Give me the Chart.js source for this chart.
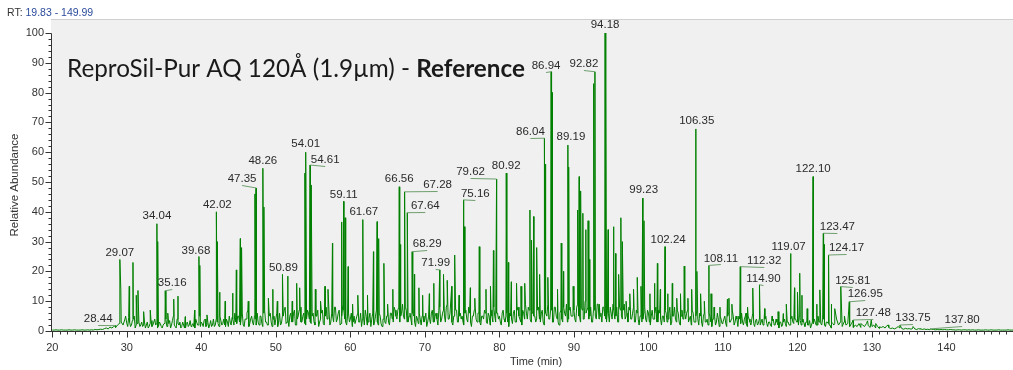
<!DOCTYPE html>
<html><head><meta charset="utf-8">
<script src="https://cdn.jsdelivr.net/npm/chart.js@4.4.1/dist/chart.umd.min.js"></script>
<style>html,body{margin:0;padding:0;background:#fff;overflow:hidden}#wrap{width:1013px;height:370px;position:relative}</style>
</head><body><div id="wrap"><canvas id="c" width="1013" height="370"></canvas></div>
<script>
// ---- data ----
const rtRange = [19.83, 149.99];
const visibleMax = 148.92;
const xTickLabels = [20, 30, 40, 50, 60, 70, 80, 90, 100, 110, 120, 130, 140];
const yTickLabels = [0, 10, 20, 30, 40, 50, 60, 70, 80, 90, 100];
const yMax = 104.7;

// baseline / noise trace sampled every 0.25 min from 20.00
const baseStart = 20, baseStep = 0.25;
const baseline = [
0.3,0.3,0.4,0.3,0.3,0.4,0.3,0.3,0.3,0.4,0.3,0.3,0.4,0.3,0.3,0.3,0.4,0.3,0.3,0.4,
0.3,0.4,0.3,0.5,0.4,0.5,0.6,0.5,0.8,1.0,0.7,1.3,1.0,1.5,1.2,2.0,2.5,3.0,2.0,4.0,
2.5,4.5,1.5,3.5,5,2,4,1.5,3,2,1,3,1.5,3.5,2,4,2.5,1.5,2.5,1,
2.5,4,1.5,3.5,2,5,1.5,4,2,1,3,1,2.5,1.5,3.5,2,1.5,4,2,5,
3,1.5,4,2,1,3.5,2,1.5,4,2.5,5,2,4,1.5,3,5,2,4,6,2.5,
5,2,6,1.5,4,7,2.5,5,2,4,6,2,5,1.5,7,3,2,6,1.5,5,
4,1.5,6,2.5,5,8,3,1.5,6,3,7,2,5,8,3,6,2,7,4,2.5,
6,2,5,1.5,4,7,2,8,4,2,6,3,8,4,7,2.5,9,4,2,6,
4,1.5,5,2.5,6,3,1.5,5,7,2,4,1.5,6,3,7,2,5,1.5,4,2.5,
5,2,6,3,7,4,8,5,9,4,7,3,6,2,5,1.5,4,6,2,5,
4,1.5,5,2.5,7,3,6,2,8,4,7,3,9,4,6,2,5,7,3,6,
5,2,7,3,6,1.5,5,8,3,6,2,5,7,3,6,2,5,8,3,6,
5,2,7,3,6,1.5,5,2.5,7,3,8,4,2,6,9,4,7,3,8,5,
4,8,3,7,2,6,9,4,7,3,8,4,2,7,3,6,9,4,8,5,
7,3,9,5,8,4,10,6,4,8,3,7,4,9,5,3,8,4,7,3,
6,9,4,8,3,7,4,9,5,3,7,4,8,3,6,2,7,4,8,3,
6,2,7,4,8,3,6,2,5,7,3,6,2,5,8,3,6,2,7,4,
4,7,4,2,6,3,7,2,5,1.5,6,3,2,5,1.5,4,2,6,1.5,4,
3,5,1.5,6,3,7,2,5,1.5,4,6,2,5,1.5,4,2,6,1.5,4,2.5,
2,4,2.5,5,1.5,3,1.5,4,2,3,1,3,2,4,1.5,3,2,5,2.5,4,
3,5,2,4,1.5,3,2,1,3,4,2,5,3,2,4,1.5,3,2,1,2.5,
2.5,4,2,3,1.5,3,2,2.5,1.5,2.5,1.2,2,1.5,2.5,1.2,2,1.5,2.5,1.8,1.2,
1.5,2,1,1.5,0.8,1.2,1.5,1,1.8,1.2,0.8,1,0.7,1,1.5,1,0.8,0.6,0.9,0.7,
0.8,0.6,1,0.7,0.5,0.8,0.6,0.5,0.7,0.5,0.6,0.4,0.6,0.5,0.4,0.5,0.4,0.5,0.4,0.5,
0.4,0.4,0.5,0.4,0.4,0.3,0.4,0.4,0.3,0.4,0.4,0.3,0.4,0.3,0.4,0.3,0.3,0.4,0.3,0.3,
0.3,0.4,0.3,0.3,0.4,0.3,0.3,0.3,0.4,0.3,0.3,0.3,0.3,0.4,0.3,0.3,0.3,0.3,0.3,0.3
];
// in-between noise samples (every 0.25 min from 30.125) for the busy part of the run
const midStart = 30.125, midStep = 0.25;
const baselineMid = [
1.5,3,2,4,1,2.5,3,2,1.5,3,2,1,2.5,1.5,3,2,1,3,1.5,2,
3,1.5,2.5,1,3.5,2,1,2.5,3,1.5,2,1,3,2,1.5,2.5,1,3,2,1.5,
2.5,3.5,1.5,3,2,1.5,4,2,3,1.5,3.5,2.5,2,4,1.5,3,4.5,2,3,5,
3,5,2,4,6,1.5,4,3,5,2,3,5,2.5,6,3,2,5,3,4,2,
6,3,2,5,7,2.5,4,5,3,6,2,4,7,3,5,2.5,4,6,3,5,
3,5,7,3,6,2.5,5,4,7,3,5,8,3,6,2,5,7,3,5,3,
6,3,2.5,5,3,6,4,2,5,3,6,4,2,5,3,6,2.5,4,3,5,
3,6,4,8,5,7,3,6,5,8,3,5,4,6,3,5,2.5,4,5,3,
6,3,4,6,3,5,4,7,3,6,5,8,4,6,3,5,7,3,5,4,
3,6,4,8,3,5,7,4,6,3,5,4,6,2.5,5,7,3,5,6,4,
3,6,4,5,3,6,4,6,3,7,5,3,7,4,6,8,4,6,5,3,
7,4,6,3,8,5,4,7,3,8,5,3,6,4,8,5,3,7,5,8,
4,8,5,3,7,4,6,8,5,3,7,5,9,4,6,8,5,3,6,8,
4,7,5,3,8,5,7,4,6,8,4,6,3,7,4,5,3,6,4,7,
3,5,4,6,3,7,4,5,3,6,4,8,3,5,4,7,3,5,4,6,
6,3,5,7,3,5,4,6,3,5,3,4,6,3,4,5,3,4,5,2.5,
4,2.5,5,3,4,5,3,4,5,2.5,3,4,2.5,5,3,4,2.5,3.5,2,4,
3,2,4,2.5,3,2,3.5,2,4,2,3,1.5,3,2.5,3,2,4,3,4,3,
2,3.5,3,2.5,3,2,3.5,2,2.5,3,2,3,2.5,4,2,3,2.5,2,3,2
];

// peak apexes (retention time, relative abundance)
const peakTimes = [
28.44,29.07,29.2,29.84,30.33,30.83,31.27,31.5,32.26,33.15,34.04,34.15,35.16,35.5,36.3,36.87,37.85,39.1,39.68,39.8,
40.76,42.02,42.15,42.46,43.2,44.2,44.7,45.24,45.4,46.3,47.2,47.35,48.26,48.4,49.0,49.6,50.2,50.89,51.6,52.2,
52.8,53.2,53.9,54.01,54.61,54.75,55.3,56.0,56.6,57.0,57.6,58.8,59.11,59.3,59.7,60.3,61.0,61.67,62.3,63.1,
63.6,63.8,64.5,65.0,65.7,66.56,66.7,67.28,67.64,68.29,68.6,69.2,69.7,70.6,71.2,71.99,72.5,73.0,73.6,74.0,
74.6,75.16,75.3,76.1,76.7,77.3,78.2,78.8,79.2,79.62,80.92,81.2,81.6,82.3,82.9,83.4,84.1,84.3,84.6,85.0,
85.4,86.04,86.15,86.5,86.94,87.1,87.8,88.3,88.6,89.19,89.3,89.9,90.5,90.7,90.9,91.2,91.6,91.9,92.1,92.65,
92.82,93.4,94.18,94.3,94.6,95.3,95.6,96.0,96.3,96.5,97.0,97.5,98.0,98.5,99.0,99.23,99.4,100.2,100.8,101.2,
101.6,102.24,102.6,103.2,103.8,104.3,104.8,105.3,105.8,106.35,106.5,107.0,107.5,108.11,108.4,108.8,109.6,110.6,110.8,111.2,
112.32,113.1,113.3,114.0,114.90,115.6,116.6,117.4,118.1,118.5,119.07,119.6,120.0,120.3,120.6,121.3,122.10,122.6,123.0,123.47,
123.6,124.17,124.5,125.0,125.81,126.3,126.95,127.48,128.5,129.4,129.9,130.5,131.0,132.2,133.75,135.5,136.5,137.80
];
const peakHeights = [
1.8,24,14,5,15,23,12,13.6,6.5,7,36,30,13.5,6,10.7,11.7,4.8,7,25,22,
5.4,40,30,13,10,12.7,20.5,31,28,10,46,48,54.6,41.6,11,14,10,19,18.4,10,
16,14.5,53,60,55.7,49,14,10,15,14,29.5,36.6,43.5,38,21.6,9,12,37.4,12,26.6,
36.7,31,22.7,9,14,48.4,29,46.7,39.7,26.6,19,14.5,12,12.5,16,20.5,19,17,15,25.5,
12,44,35,14.5,11,28.3,14,15,27,51,53,23,16.5,16,15,16,40.6,30.5,38.4,28,
19,64.7,56,18,87,80,14,29.5,20,62.4,55,15,40.6,51.8,47,39.5,34,37,24,83,
87,9,100,83,34,35,26,19,38,30,10,12.5,14,18,15,44.6,37,12.5,16,22.7,
14,28.3,12.5,16,11,12.5,21.8,11,14,67.8,20,12.5,10,22,12.5,8,8,10.7,11,9,
21.6,6,8,14.4,15.5,7.5,5,6.5,5.8,9,26,14.5,13,19.4,12,7.5,51.8,9,13.8,32.8,
29,25.5,9,7.5,14.9,5,9.8,3.7,2.5,3.4,3.7,2.5,1.4,2,2,1.5,0.8,0.7
];

// labelled peaks
const labelTimes = [28.44,29.07,34.04,35.16,39.68,42.02,47.35,48.26,50.89,54.01,54.61,59.11,61.67,66.56,67.28,67.64,68.29,71.99,75.16,79.62,
80.92,86.04,86.94,89.19,92.82,94.18,99.23,102.24,106.35,108.11,112.32,114.90,119.07,122.10,123.47,124.17,125.81,126.95,127.48,133.75,137.80];
// label offsets from the apex (layout, px)
const labelDx = [-17,0,0,7,-3,1,-14,0,1,0,15,0,1,0,33,18,15,-4,12,-26,
0,-14,-5,3,-11,0,1,3,1,12,24,4,-2,0,14,18,12,16,20,13,32];
const labelDy = [-7,-7,-8,-8,-6,-7,-9,-7,-7,-8,-5,-7,-8,-8,-7,-7,-8,-7,-6,-7,
-7,-6,-6,-8,-8,-8,-8,-7,-8,-7,-6,-6,-7,-8,-6,-7,-6,-8,-7,-7,-9];

// ---- build trace ----
const points = baseline.map((v, i) => ({x: baseStart + i * baseStep, y: v}));
baselineMid.forEach((v, i) => points.push({x: midStart + i * midStep, y: v}));
peakTimes.forEach((t, i) => points.push({x: t, y: peakHeights[i]}));
points.sort((a, b) => a.x - b.x);

const FONT = 'Liberation Sans, Arial, sans-serif';

const decor = {
  id: 'decor',
  beforeDraw(chart) {
    const {ctx, chartArea: a} = chart;
    ctx.save();
    ctx.fillStyle = '#fff';
    ctx.fillRect(0, 0, chart.width, chart.height);
    ctx.fillStyle = '#f0f0f0';
    ctx.fillRect(a.left, a.top, a.right - a.left, a.bottom - a.top);
    ctx.strokeStyle = '#cfcfcf';
    ctx.lineWidth = 1;
    ctx.beginPath();
    ctx.moveTo(a.left, a.top + 0.5); ctx.lineTo(a.right, a.top + 0.5);
    ctx.stroke();
    ctx.restore();
  },
  afterDatasetsDraw(chart) {
    const {ctx, chartArea: a} = chart;
    const xs = chart.scales.x, ys = chart.scales.y;
    ctx.save();
    // axes
    ctx.strokeStyle = '#333';
    ctx.lineWidth = 1;
    ctx.beginPath();
    const ax = Math.round(a.left) + 0.5, ay = Math.round(a.bottom) + 0.5;
    ctx.moveTo(ax, Math.round(ys.getPixelForValue(100)) + 0.5); ctx.lineTo(ax, ay);
    ctx.moveTo(a.left, ay); ctx.lineTo(a.right, ay);
    for (let v = 0; v <= 100; v += 2) {
      const py = Math.round(ys.getPixelForValue(v)) + 0.5;
      const len = v % 10 === 0 ? 6 : 3;
      ctx.moveTo(ax - len, py); ctx.lineTo(ax, py);
    }
    for (let t = 20; t <= 149; t += 1) {
      const px = Math.round(xs.getPixelForValue(t)) + 0.5;
      const len = t % 10 === 0 ? 6 : 3;
      ctx.moveTo(px, ay); ctx.lineTo(px, ay + len);
    }
    ctx.stroke();

    // peak labels
    ctx.font = '11.5px ' + FONT;
    ctx.textAlign = 'center';
    ctx.textBaseline = 'middle';
    labelTimes.forEach((t, i) => {
      const h = peakHeights[peakTimes.indexOf(t)];
      const px = xs.getPixelForValue(t), py = ys.getPixelForValue(h);
      const lx = px + labelDx[i], ly = py + labelDy[i];
      if (Math.abs(labelDx[i]) > 3) {
        ctx.strokeStyle = '#6f9f6f';
        ctx.beginPath();
        ctx.moveTo(lx, Math.round(ly + 6) + 0.5);
        ctx.lineTo(px, py);
        ctx.stroke();
      }
      ctx.fillStyle = '#2a2a2a';
      ctx.fillText(t.toFixed(2), lx, ly);
    });

    // axis titles
    ctx.fillStyle = '#333';
    ctx.font = '11px ' + FONT;
    ctx.textBaseline = 'middle';
    const cx = (a.left + xs.getPixelForValue(rtRange[1])) / 2;
    ctx.fillText('Time (min)', cx, 362);
    ctx.save();
    ctx.translate(15, (a.top + a.bottom) / 2 + 10);
    ctx.rotate(-Math.PI / 2);
    ctx.font = '11.5px ' + FONT;
    ctx.fillText('Relative Abundance', 0, 0);
    ctx.restore();

    // RT header
    ctx.textAlign = 'left';
    ctx.font = '10.5px ' + FONT;
    ctx.fillStyle = '#333';
    ctx.fillText('RT:', 7, 13);
    const w = ctx.measureText('RT: ').width;
    ctx.fillStyle = '#2b4c9b';
    ctx.fillText(rtRange[0].toFixed(2) + ' - ' + rtRange[1].toFixed(2), 7 + w, 13);

    // title
    const t1 = 'ReproSil-Pur AQ 120\u00C5 (1.9\u00B5m) - ', t2 = 'Reference';
    ctx.font = '22px Lato';
    const w1 = ctx.measureText(t1).width;
    ctx.font = 'bold 22px Lato';
    const w2 = ctx.measureText(t2).width;
    const size = 22 * 458 / (w1 + w2);
    ctx.textBaseline = 'alphabetic';
    ctx.fillStyle = '#1a1a1a';
    ctx.font = size.toFixed(2) + 'px Lato';
    ctx.fillText(t1, 67, 77);
    const w1b = ctx.measureText(t1).width;
    ctx.font = 'bold ' + size.toFixed(2) + 'px Lato';
    ctx.fillText(t2, 67 + w1b, 77);
    ctx.restore();
  }
};

new Chart(document.getElementById('c'), {
  type: 'line',
  data: {datasets: [{data: points, borderColor: 'rgb(0,128,0)', borderWidth: 1, pointRadius: 0, tension: 0, fill: false}]},
  options: {
    responsive: false, animation: false, devicePixelRatio: 1,
    layout: {padding: {top: 19, left: 0, right: 0, bottom: 0}},
    plugins: {legend: {display: false}, tooltip: {enabled: false}, title: {display: false}},
    scales: {
      x: {
        type: 'linear', min: rtRange[0], max: visibleMax,
        afterBuildTicks: s => { s.ticks = xTickLabels.map(v => ({value: v})); },
        afterFit: s => { s.height = 39; },
        grid: {display: false, drawTicks: false}, border: {display: false},
        ticks: {autoSkip: false, maxRotation: 0, padding: 10, color: '#333', font: {family: FONT, size: 11}, callback: v => String(v)}
      },
      y: {
        type: 'linear', min: 0, max: yMax,
        afterBuildTicks: s => { s.ticks = yTickLabels.map(v => ({value: v})); },
        afterFit: s => { s.width = 51; },
        grid: {display: false, drawTicks: false}, border: {display: false},
        ticks: {autoSkip: false, padding: 7, color: '#333', font: {family: FONT, size: 11}, callback: v => String(v)}
      }
    }
  },
  plugins: [decor]
});
</script></body></html>
